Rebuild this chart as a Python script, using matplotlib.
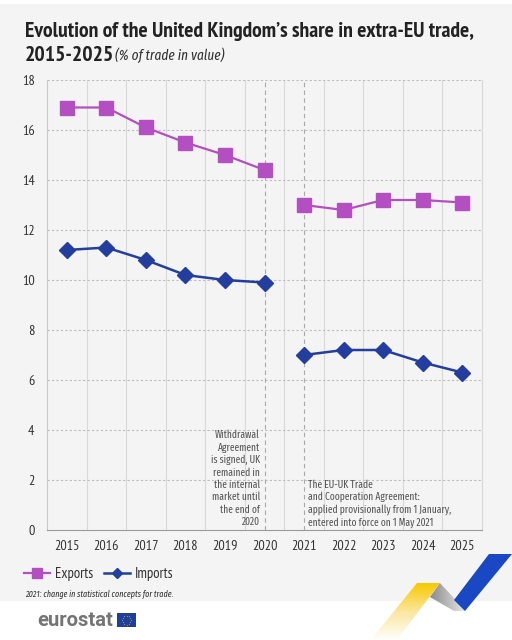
import numpy as np
import matplotlib
matplotlib.use('Agg')
import matplotlib.pyplot as plt
from matplotlib.patches import Polygon, Rectangle
from matplotlib.lines import Line2D

plt.rcParams['font.family'] = ['PT Sans Narrow', 'DejaVu Sans']
narrow_it = ['Fira Sans Extra Condensed', 'DejaVu Sans']

years = ['2015', '2016', '2017', '2018', '2019', '2020', '2021', '2022', '2023', '2024', '2025']
exports = [16.9, 16.9, 16.1, 15.5, 15.0, 14.4, 13.0, 12.8, 13.2, 13.2, 13.1]
imports = [11.2, 11.3, 10.8, 10.2, 10.0, 9.9, 7.0, 7.2, 7.2, 6.7, 6.3]
y_ticks = [0, 2, 4, 6, 8, 10, 12, 14, 16, 18]
break_after = 6  # series break between 2020 and 2021

note_withdrawal = ('Withdrawal\nAgreement\nis signed, UK\nremained in\nthe internal\n'
                   'market until\nthe end of\n2020')
note_tca = ('The EU-UK Trade\nand Cooperation Agreement:\n'
            'applied provisionally from 1 January,\nentered into force on 1 May 2021')

exp_col = '#b44fc2'
imp_col = '#233e9e'
bg = '#f4f4f4'

W, H = 512, 640
fig = plt.figure(figsize=(W / 100, H / 100), dpi=100)
fig.patch.set_facecolor('white')

# decoration layer in pixel coordinates
deco = fig.add_axes([0, 0, 1, 1], zorder=0)
deco.set_xlim(0, W)
deco.set_ylim(H, 0)
deco.axis('off')
deco.add_patch(Rectangle((0, 4), W, 597, facecolor=bg, edgecolor='none'))

# ribbons bottom right
yellow = Polygon([(417, 583), (440, 583), (396, 641), (370, 641)], closed=True,
                 facecolor='none', edgecolor='none')
deco.add_patch(yellow)
grad = np.linspace(0, 1, 100).reshape(-1, 1)
cm = matplotlib.colors.LinearSegmentedColormap.from_list('y', ['#f7c900', '#fbe7a0', '#ffffff'])
im = deco.imshow(grad, extent=(365, 445, 641, 583), cmap=cm, aspect='auto', zorder=1)
im.set_clip_path(yellow)
gray_rib = Polygon([(440, 583), (466, 611), (454, 611), (430, 597)], closed=True,
                   facecolor='none', edgecolor='none')
deco.add_patch(gray_rib)
cm2 = matplotlib.colors.LinearSegmentedColormap.from_list('g', ['#8c8c8c', '#e8e8e8'])
im2 = deco.imshow(np.linspace(0, 1, 100).reshape(1, -1), extent=(430, 466, 611, 583),
                  cmap=cm2, aspect='auto', zorder=1)
im2.set_clip_path(gray_rib)
deco.add_patch(Polygon([(489, 554), (512, 554), (465, 611), (454, 600)], closed=True,
                       facecolor='#1a47c4', edgecolor='none', zorder=2))

# eurostat logo
deco.text(37, 621, 'eurostat', fontsize=14.5, fontweight='bold', color='#747474',
          family=['Roboto', 'DejaVu Sans'], va='center', ha='left')
deco.add_patch(Rectangle((117, 613), 19, 14, facecolor='#1f3f9c', edgecolor='none'))
ang = np.linspace(0, 2 * np.pi, 13)[:-1]
deco.scatter(126.5 + 4.5 * np.cos(ang), 620 + 4.5 * np.sin(ang), s=1.2, color='#f5d000',
             marker='*', linewidths=0)

# title
fig.text(25 / W, 1 - 37 / H, 'Evolution of the United Kingdom\u2019s share in extra-EU trade,',
         fontsize=15.6, fontweight='bold', color='#222222', va='baseline')
fig.text(25 / W, 1 - 61 / H, '2015-2025', fontsize=15.6, fontweight='bold',
         color='#222222', va='baseline')
fig.text(115 / W, 1 - 60 / H, '(% of trade in value)', fontsize=10.4, style='italic',
         family=narrow_it, color='#333333', va='baseline')

# main chart
ax = fig.add_axes([47 / W, 1 - 530 / H, 435 / W, 450 / H], zorder=1)
ax.set_facecolor(bg)
x = np.arange(len(years))
ax.plot(x[:break_after], exports[:break_after], color=exp_col, lw=1.6, marker='s',
        ms=9.5, zorder=4)
ax.plot(x[break_after:], exports[break_after:], color=exp_col, lw=1.6, marker='s',
        ms=9.5, zorder=4)
ax.plot(x[:break_after], imports[:break_after], color=imp_col, lw=1.8, marker='D',
        ms=8, zorder=4)
ax.plot(x[break_after:], imports[break_after:], color=imp_col, lw=1.8, marker='D',
        ms=8, zorder=4)

ax.set_xlim(-0.5, len(years) - 0.5)
ax.set_ylim(0, 18)
ax.set_yticks(y_ticks)
ax.set_xticks(x)
ax.set_xticklabels(years)
ax.tick_params(axis='both', length=0, labelsize=10.2, colors='#333333')
ax.tick_params(axis='x', pad=7.5)
ax.tick_params(axis='y', pad=9)

for v in np.arange(0.5, len(years) - 0.5, 1):
    ax.axvline(v, color='#d8d8d8', lw=0.8, zorder=1)
for v in y_ticks[1:]:
    ax.axhline(v, color='#bdbdbd', lw=0.8, ls=(0, (2, 2)), zorder=1)
for xv in (5, 6):
    ax.axvline(xv, color='#a9a9a9', lw=0.8, ls=(0, (4, 3)), zorder=2)

ax.spines['top'].set_visible(False)
ax.spines['left'].set_color('#c8c8c8')
ax.spines['bottom'].set_color('#9a9a9a')
ax.spines['right'].set_color('#d8d8d8')
ax.spines['right'].set_linewidth(0.8)

ax.text(4.88, 0.1, note_withdrawal, ha='right', va='bottom', fontsize=7.4,
        family=narrow_it, color='#555555', linespacing=1.2, zorder=3)
ax.text(6.1, 0.1, note_tca, ha='left', va='bottom', fontsize=7.4,
        family=narrow_it, color='#555555', linespacing=1.2, zorder=3)

# legend
handles = [Line2D([], [], color=exp_col, lw=1.6, marker='s', ms=6.5),
           Line2D([], [], color=imp_col, lw=1.8, marker='D', ms=5.5)]
fig.legend(handles, ['Exports', 'Imports'], loc='center left',
           bbox_to_anchor=(18 / W, 1 - 574 / H), ncol=2, frameon=False,
           fontsize=10.6, handlelength=1.75, handletextpad=0.35, columnspacing=0.75,
           borderpad=0.2, borderaxespad=0.2, labelcolor='#333333')
fig.text(25 / W, 1 - 594 / H, '2021: change in statistical concepts for trade.',
         fontsize=6.3, style='italic', family=narrow_it, color='#333333', va='center')

fig.savefig('out.png', dpi=100, facecolor='white')
